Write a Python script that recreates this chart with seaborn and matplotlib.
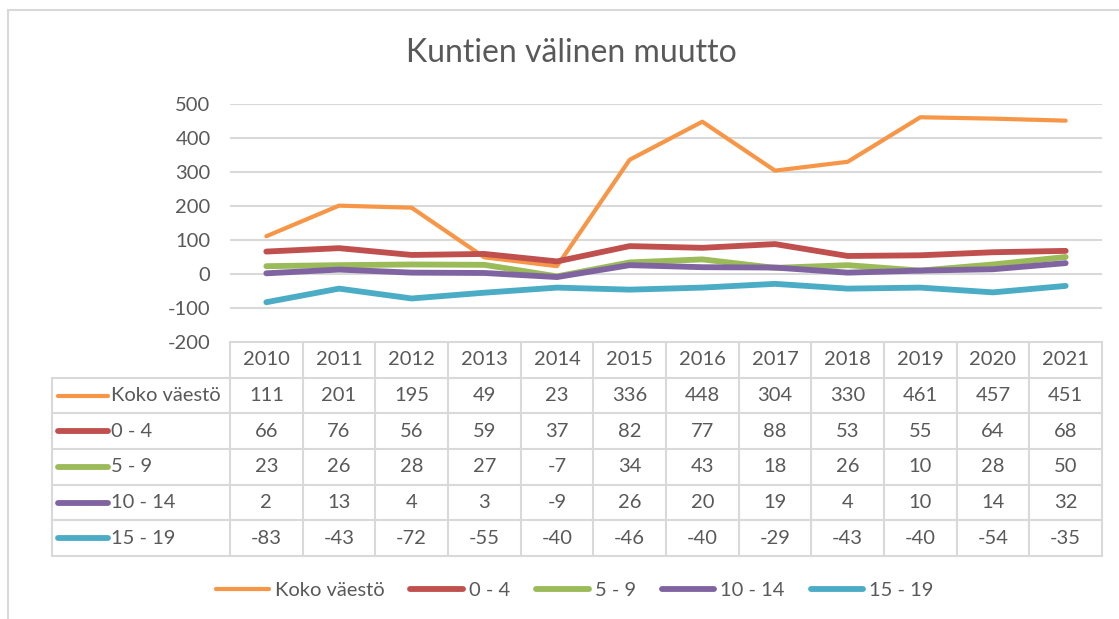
import seaborn as sns
import matplotlib.pyplot as plt
import matplotlib.patches as mpatches
from matplotlib.lines import Line2D
import pandas as pd

years = ["2010", "2011", "2012", "2013", "2014", "2015", "2016", "2017", "2018", "2019", "2020", "2021"]
koko = [111, 201, 195, 49, 23, 336, 448, 304, 330, 461, 457, 451]
ika_0_4 = [66, 76, 56, 59, 37, 82, 77, 88, 53, 55, 64, 68]
ika_5_9 = [23, 26, 28, 27, -7, 34, 43, 18, 26, 10, 28, 50]
ika_10_14 = [2, 13, 4, 3, -9, 26, 20, 19, 4, 10, 14, 32]
ika_15_19 = [-83, -43, -72, -55, -40, -46, -40, -29, -43, -40, -54, -35]

series_names = ["Koko väestö", "0 - 4", "5 - 9", "10 - 14", "15 - 19"]
series_vals = [koko, ika_0_4, ika_5_9, ika_10_14, ika_15_19]
colors = ["#F79646", "#C0504D", "#9BBB59", "#8064A2", "#4BACC6"]
widths = [3.0, 4.2, 4.2, 4.2, 4.2]

W, H = 1119, 619
TXT = "#595959"
GRID = "#D9D9D9"

sns.set_theme(style="white")
plt.rcParams["font.family"] = ["Lato", "DejaVu Sans"]
plt.rcParams["axes.unicode_minus"] = False

fig = plt.figure(figsize=(W / 100, H / 100), dpi=100)

# chart area border
fig.patches.append(mpatches.Rectangle((8 / W, -0.5), 2, 0.5 + 1 - 10 / H,
                                      transform=fig.transFigure, fill=False,
                                      edgecolor=GRID, lw=1.5))

px_left, px_right, px_top, px_bot = 230, 1102, 104, 342
ax = fig.add_axes([px_left / W, 1 - px_bot / H, (px_right - px_left) / W, (px_bot - px_top) / H])

rows = []
for name, vals in zip(series_names, series_vals):
    for i, v in enumerate(vals):
        rows.append({"idx": i, "value": v, "series": name})
df = pd.DataFrame(rows)

for name, col, lw in zip(series_names, colors, widths):
    sns.lineplot(data=df[df["series"] == name], x="idx", y="value", color=col,
                 lw=lw, ax=ax, solid_capstyle="round", legend=False)

ax.set_xlim(-0.5, len(years) - 0.5)
ax.set_ylim(-200, 500)
ax.set_yticks(range(-200, 501, 100))
ax.set_xticks([])
ax.set_xlabel("")
ax.set_ylabel("")
for s in ax.spines.values():
    s.set_visible(False)
for y in range(-100, 501, 100):
    ax.axhline(y, color=GRID, lw=1.5, zorder=0)
ax.tick_params(axis="y", length=0, pad=14, labelsize=14.5, labelcolor=TXT)

fig.text(571 / W, 1 - 53 / H, "Kuntien välinen muutto", ha="center", va="center",
         fontsize=23, color=TXT)

# data table
t_left, t_lab, t_right, t_top, t_bot = 52, 230, 1102, 342, 556
tax = fig.add_axes([t_left / W, 1 - t_bot / H, (t_right - t_left) / W, (t_bot - t_top) / H])
tax.set_xlim(t_left, t_right)
tax.set_ylim(t_bot, t_top)
tax.axis("off")
n_rows = len(series_names) + 1
rh = (t_bot - t_top) / n_rows
cw = (t_right - t_lab) / len(years)
lk = dict(color=GRID, lw=1.5, clip_on=False)
tax.plot([t_lab, t_right], [t_top, t_top], **lk)
for r in range(1, n_rows + 1):
    y = t_top + r * rh
    tax.plot([t_left, t_right], [y, y], **lk)
tax.plot([t_left, t_left], [t_top + rh, t_bot], **lk)
for c in range(len(years) + 1):
    x = t_lab + c * cw
    tax.plot([x, x], [t_top, t_bot], **lk)

for c, yr in enumerate(years):
    tax.text(t_lab + (c + 0.5) * cw, t_top + 0.5 * rh, yr, ha="center", va="center",
             fontsize=14.5, color=TXT)
for r, (name, vals, col, lw) in enumerate(zip(series_names, series_vals, colors, widths)):
    yc = t_top + (r + 1.5) * rh
    tax.plot([58, 108], [yc, yc], color=col, lw=lw, solid_capstyle="round")
    tax.text(111, yc, name, ha="left", va="center", fontsize=14.5, color=TXT)
    for c, v in enumerate(vals):
        tax.text(t_lab + (c + 0.5) * cw, yc, str(v), ha="center", va="center",
                 fontsize=14.5, color=TXT)

handles = [Line2D([0], [0], color=col, lw=lw, solid_capstyle="round")
           for col, lw in zip(colors, widths)]
fig.legend(handles, series_names, loc="center", bbox_to_anchor=(575 / W, 1 - 590 / H),
           ncol=5, frameon=False, fontsize=14.5, labelcolor=TXT, handlelength=2.6,
           handletextpad=0.3, columnspacing=1.3)

fig.savefig("out.png", dpi=100)
